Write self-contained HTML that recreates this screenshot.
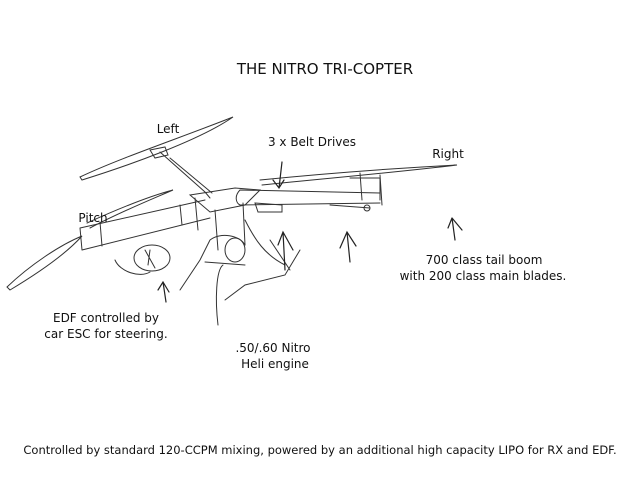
<!DOCTYPE html>
<html><head><meta charset="utf-8"><style>
body{margin:0;background:#fff;}
svg{display:block}
text{font-family:"DejaVu Sans","Liberation Sans",sans-serif;font-size:12px;fill:#111}
</style></head><body>
<svg width="640" height="478" viewBox="0 0 640 478" xmlns="http://www.w3.org/2000/svg">
<text x="325" y="74" text-anchor="middle" style="font-size:15px">THE NITRO TRI-COPTER</text>
<g fill="none" stroke="#333" stroke-width="1" stroke-linecap="round">
<!-- left blade -->
<path d="M80,177 C120,158 180,138 233,117 C200,140 130,165 82,180 Z"/>
<path d="M150,150 L165,147 L168,155 L155,158 Z"/>
<path d="M160,152 L205,192 L210,198 M170,158 L212,193"/>
<!-- pitch blade -->
<path d="M7,287 C30,265 60,245 82,236 C65,255 35,275 10,290 Z"/>
<path d="M87,223 C120,208 150,196 173,190 C150,200 120,212 90,228"/>
<!-- pitch boom -->
<path d="M80,228 L205,200 M82,250 L210,218 M80,228 L82,250"/>
<path d="M100,222 L102,246 M180,205 L182,225"/>
<!-- center body -->
<path d="M190,195 L235,188 L260,190 L245,205 L210,212 Z"/>
<path d="M195,198 L198,230 M243,203 L245,245 M215,210 L218,250"/>
<!-- right boom -->
<path d="M240,190 L380,193 M240,205 L380,203 M240,190 C234,196 236,203 240,205"/>
<path d="M260,180 C330,173 400,168 457,165 C400,172 330,178 262,185"/>
<path d="M360,173 L362,200 M380,175 L382,205 M380,178 L380,200 M350,178 L380,178"/>
<path d="M255,203 L282,205 L282,212 L258,212 Z"/>
<path d="M330,205 L370,208"/>
<circle cx="367" cy="208" r="3"/>
<!-- EDF -->
<ellipse cx="152" cy="258" rx="18" ry="13"/>
<path d="M115,260 C120,272 140,278 150,272 M145,250 L155,268 M150,250 L148,265"/>
<!-- engine -->
<ellipse cx="235" cy="250" rx="10" ry="12"/>
<path d="M210,240 C220,232 240,235 245,245 M205,262 L245,265 M180,290 L200,260 L210,240"/>
<path d="M245,220 C255,240 265,255 285,265 M270,240 L290,270"/>
<path d="M223,265 C216,270 215,300 218,325"/>
<path d="M225,300 L245,285 L285,275 L300,250"/>
</g>
<!-- arrows -->
<g fill="none" stroke="#222" stroke-width="1.2" stroke-linecap="round">
<path d="M282,162 L279,188 M273,180 L279,188 L284,180"/>
<path d="M455,240 L452,218 M448,228 L452,218 M452,218 L462,230"/>
<path d="M166,302 L163,282 M158,290 L163,282 L169,292"/>
<path d="M285,270 L283,232 M278,245 L283,232 L293,250"/>
<path d="M350,262 L347,232 M340,248 L347,232 L356,246"/>
</g>
<text x="168" y="133" text-anchor="middle">Left</text>
<text x="312" y="146" text-anchor="middle">3 x Belt Drives</text>
<text x="448" y="158" text-anchor="middle">Right</text>
<text x="93" y="222" text-anchor="middle">Pitch</text>
<text x="484" y="264" text-anchor="middle">700 class tail boom</text>
<text x="483" y="280" text-anchor="middle">with 200 class main blades.</text>
<text x="106" y="322" text-anchor="middle">EDF controlled by</text>
<text x="106" y="338" text-anchor="middle">car ESC for steering.</text>
<text x="273" y="352" text-anchor="middle">.50/.60 Nitro</text>
<text x="275" y="368" text-anchor="middle">Heli engine</text>
<text x="320" y="454" text-anchor="middle" style="font-size:11.5px">Controlled by standard 120-CCPM mixing, powered by an additional high capacity LIPO for RX and EDF.</text>
</svg>
</body></html>
